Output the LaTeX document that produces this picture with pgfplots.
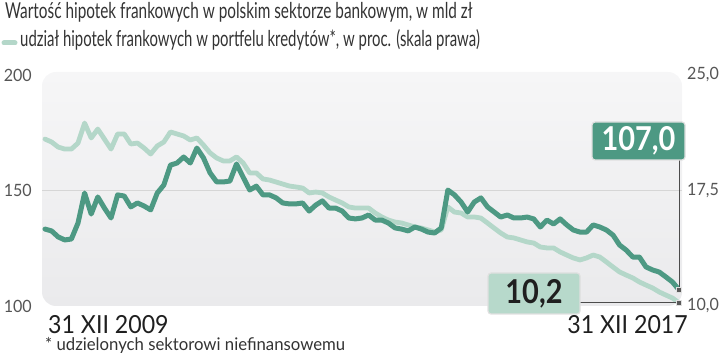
\documentclass[border=0pt]{standalone}
\usepackage{pgfplots}
\pgfplotsset{compat=1.18}
\usepackage{pgfplotstable}
\usepackage{fontspec}
\setmainfont{Lato}
\newfontfamily\titlefont{Lato}[FakeStretch=0.70]
\newfontfamily\condfont{Lato}[FakeStretch=0.68]
\newfontfamily\notefont{Lato}[FakeStretch=0.96]
\newfontfamily\datefont{Lato}[FakeStretch=0.93]
\newfontfamily\tickfont{Lato}[FakeStretch=0.95]
\newfontfamily\numfont{Lato}[FakeStretch=0.88]
\definecolor{darkg}{RGB}{77,153,131}
\definecolor{lightg}{RGB}{180,215,201}
\definecolor{boxlight}{RGB}{183,217,203}
\definecolor{bgtop}{RGB}{246,246,247}
\definecolor{bgbot}{RGB}{234,234,236}
\definecolor{ticktext}{RGB}{85,85,85}

\pgfplotstableread{
x y
0 133.3
1 132.5
2 129.9
3 128.6
4 129.0
5 135.9
6 148.9
7 139.8
8 147.2
9 142.4
10 138.1
11 148.1
12 147.6
13 142.9
14 144.6
15 143.3
16 141.6
17 148.9
18 152.4
19 161.0
20 161.9
21 164.5
22 161.9
23 168.4
24 164.1
25 157.6
26 153.7
27 153.7
28 154.1
29 161.5
30 155.8
31 150.2
32 151.9
33 148.1
34 148.1
35 146.8
36 144.6
37 144.2
38 144.2
39 144.6
40 141.1
41 143.7
42 145.5
43 142.4
44 142.4
45 141.1
46 138.1
47 137.7
48 138.1
49 139.4
50 137.2
51 137.2
52 135.9
53 133.8
54 133.3
55 132.5
56 134.2
57 133.3
58 132.0
59 131.6
60 133.8
61 150.2
62 148.1
63 145.0
64 140.7
65 145.0
66 146.8
67 142.9
68 140.7
69 138.5
70 139.4
71 138.1
72 138.1
73 138.5
74 137.7
75 134.2
76 137.2
77 135.5
78 137.7
79 135.1
80 132.9
81 132.0
82 132.0
83 135.1
84 134.2
85 132.9
86 130.7
87 126.4
88 124.2
89 121.2
90 121.2
91 116.9
92 115.6
93 114.7
94 112.6
95 110.4
96 107.0
}\darktable

\pgfplotstableread{
x y
0 20.84
1 20.65
2 20.32
3 20.19
4 20.19
5 20.58
6 21.88
7 20.91
8 21.49
9 20.84
10 20.19
11 21.17
12 21.17
13 20.52
14 20.58
15 20.26
16 19.87
17 20.39
18 20.65
19 21.30
20 21.17
21 21.04
22 20.78
23 20.91
24 20.45
25 19.94
26 19.61
27 19.42
28 19.42
29 19.68
30 19.29
31 18.64
32 18.64
33 18.25
34 18.18
35 18.05
36 17.92
37 17.79
38 17.73
39 17.66
40 17.34
41 17.40
42 17.34
43 17.08
44 16.88
45 16.69
46 16.43
47 16.36
48 16.36
49 16.36
50 16.04
51 15.78
52 15.58
53 15.45
54 15.39
55 15.26
56 15.13
57 15.06
58 14.94
59 14.81
60 14.94
61 16.43
62 16.10
63 16.04
64 15.78
65 15.78
66 15.71
67 15.39
68 15.06
69 14.74
70 14.48
71 14.42
72 14.29
73 14.16
74 14.09
75 13.83
76 13.77
77 13.77
78 13.51
79 13.31
80 13.12
81 12.99
82 13.12
83 13.31
84 13.18
85 12.86
86 12.53
87 12.21
88 12.01
89 11.82
90 11.56
91 11.36
92 11.17
93 10.91
94 10.71
95 10.52
96 10.20
}\lighttable

\begin{document}
\begin{tikzpicture}
\useasboundingbox (0,0) rectangle (721bp,358bp);
\pgfplotsset{
  common/.style={
    at={(42bp,52bp)}, anchor=south west,
    scale only axis, width=640bp, height=234bp,
    xmin=-0.45, xmax=96.45,
    clip=false,
    axis line style={draw=none},
    major tick length=0pt,
    xtick=\empty,
    yticklabel style={font=\tickfont\fontsize{17}{20}\selectfont, text=ticktext, inner sep=0pt},
  }
}
% right axis: share (light)
\begin{axis}[common,
  ymin=10, ymax=25.195,
  ytick={10,17.5,25}, yticklabels={{10,0},{17,5},{25,0}},
  yticklabel pos=right,
  yticklabel style={anchor=west, xshift=5bp},
  extra y ticks={17.5}, extra y tick labels={},
  extra y tick style={grid=major, major grid style={draw=black!16, line width=1bp}},
  axis background/.style={top color=bgtop, bottom color=bgbot, rounded corners=14bp},
]
\addplot[lightg, line width=4.8bp, line join=round, line cap=round] table[x=x,y=y] {\lighttable};
\draw[black!70, line width=1bp] (axis cs:74,10.2) -- (axis cs:96,10.2);
\addplot[only marks, mark=square*, mark size=2.6bp, mark options={fill=black!65, draw=black!12, line width=1.2bp}] coordinates {(96,10.2)};
\end{axis}
% left axis: value (dark)
\begin{axis}[common,
  ymin=100, ymax=201.3,
  ytick={100,150,200}, yticklabels={100,150,200},
  yticklabel pos=left,
  yticklabel style={anchor=east, xshift=-10bp},
]
\addplot[darkg, line width=5bp, line join=round, line cap=round] table[x=x,y=y] {\darktable};
\draw[black!70, line width=1bp] (axis cs:96,107) -- (axis cs:96,163.2);
\addplot[only marks, mark=square*, mark size=2.6bp, mark options={fill=black!65, draw=black!12, line width=1.2bp}] coordinates {(96,107.0)};
\end{axis}

% annotation boxes
\node[fill=darkg, draw=black!12, line width=1.2bp, rounded corners=3bp, minimum width=93bp, minimum height=38bp, inner sep=0pt, text=white, font=\numfont\bfseries\fontsize{33}{36}\selectfont] at (638.5bp,217bp) {107,0};
\node[fill=boxlight, draw=black!12, line width=1.2bp, rounded corners=3bp, minimum width=92bp, minimum height=41bp, inner sep=0pt, text=black!88, font=\numfont\bfseries\fontsize{33}{36}\selectfont] at (534bp,64.5bp) {10,2};

% titles
\node[anchor=base west, inner sep=0pt, text=black!80, font=\titlefont\fontsize{22}{26}\selectfont] at (5bp,339bp) {Wartość hipotek frankowych w polskim sektorze bankowym, w mld zł};
\draw[lightg, line width=5bp, line cap=round] (4bp,315bp) -- (15bp,315bp);
\node[anchor=base west, inner sep=0pt, text=black!80, font=\condfont\fontsize{22}{26}\selectfont] at (20bp,311bp) {udział hipotek frankowych w portfelu kredytów*, w proc. (skala prawa)};

% date labels and footnote
\node[anchor=base west, inner sep=0pt, text=black!88, font=\datefont\fontsize{25}{29}\selectfont] at (48bp,25bp) {31 XII 2009};
\node[anchor=base east, inner sep=0pt, text=black!88, font=\datefont\fontsize{25}{29}\selectfont] at (688bp,25bp) {31 XII 2017};
\node[anchor=base west, inner sep=0pt, text=black!80, font=\notefont\fontsize{17.5}{20}\selectfont] at (45bp,8bp) {* udzielonych sektorowi niefinansowemu};
\end{tikzpicture}
\end{document}
